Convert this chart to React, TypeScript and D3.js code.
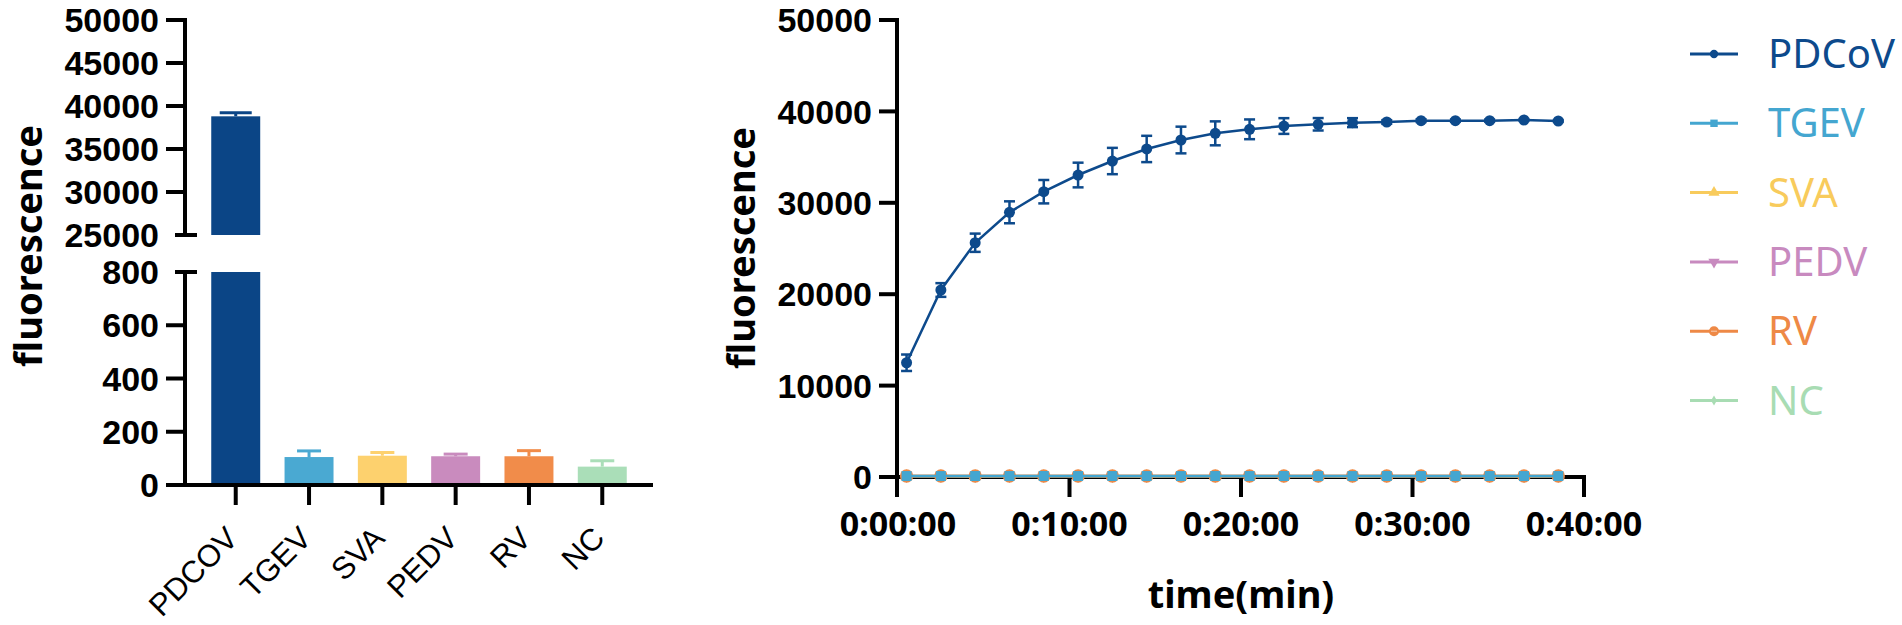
import React from 'react';
import * as d3 from 'd3';

// ---------- Data: bar chart ----------
const barCategories = ['PDCOV', 'TGEV', 'SVA', 'PEDV', 'RV', 'NC'];
const barMeans = [38800, 105, 110, 108, 108, 69];
const barSD = [420, 23, 12, 8, 21, 22];
const barColors = ['#0B4586', '#4AA9D2', '#FDD16E', '#C98BBE', '#F18C4A', '#AADEB8'];
const upperTicks = [25000, 30000, 35000, 40000, 45000, 50000];
const lowerTicks = [0, 200, 400, 600, 800];

// ---------- Data: time course ----------
const timeMin = [0.5, 2.5, 4.5, 6.5, 8.5, 10.5, 12.5, 14.5, 16.5, 18.5, 20.5, 22.5, 24.5, 26.5, 28.5, 30.5, 32.5, 34.5, 36.5, 38.5];
const pdcovMean = [12500, 20460, 25630, 28960, 31215, 33040, 34570, 35890, 36870, 37600, 38040, 38400, 38590, 38770, 38840, 38990, 38990, 38990, 39060, 38950];
const pdcovSD = [900, 750, 1000, 1200, 1280, 1350, 1440, 1440, 1460, 1310, 1080, 860, 680, 490, 200, 150, 120, 120, 100, 100];
const tgevMean = [105, 104, 106, 105, 107, 105, 106, 104, 105, 106, 105, 107, 105, 104, 106, 105, 105, 106, 104, 105];
const svaMean = [110, 111, 109, 110, 112, 110, 111, 109, 110, 111, 110, 112, 110, 109, 111, 110, 110, 111, 109, 110];
const pedvMean = [108, 107, 109, 108, 108, 107, 109, 108, 108, 107, 109, 108, 108, 107, 109, 108, 108, 107, 109, 108];
const rvMean = [108, 109, 107, 108, 110, 108, 109, 107, 108, 109, 108, 110, 108, 107, 109, 108, 108, 109, 107, 108];
const ncMean = [69, 70, 68, 69, 71, 69, 70, 68, 69, 70, 69, 71, 69, 68, 70, 69, 69, 70, 68, 69];
const seriesNames = ['PDCoV', 'TGEV', 'SVA', 'PEDV', 'RV', 'NC'];
const seriesColors = ['#0D4A8C', '#44A6D0', '#F8CB5C', '#C88ABF', '#EE8946', '#A8DCB3'];
const rightYTicks = [0, 10000, 20000, 30000, 40000, 50000];
const rightXTicks = [0, 10, 20, 30, 40];
const rightXTickLabels = ['0:00:00', '0:10:00', '0:20:00', '0:30:00', '0:40:00'];

const tickFont = '"Liberation Sans", Arial, sans-serif';
const titleFont = '"Noto Sans", "Open Sans", sans-serif';

const symbolTypes = [d3.symbolCircle, d3.symbolSquare, d3.symbolTriangle, d3.symbolTriangle, d3.symbolCircle, d3.symbolDiamond];
const symbolRot = [0, 0, 0, 180, 0, 0];

export default function App() {
  // ----- left chart scales -----
  const axisX = 185;
  const yUp = d3.scaleLinear().domain([25000, 50000]).range([235, 20]);
  const yLo = d3.scaleLinear().domain([0, 800]).range([485, 272]);
  const xBand = d3.scaleBand().domain(barCategories).range([185, 653]).paddingInner(0.332).paddingOuter(0.358);
  const bw = xBand.bandwidth();

  // ----- right chart scales -----
  const xT = d3.scaleLinear().domain([0, 40]).range([898, 1584]);
  const yT = d3.scaleLinear().domain([0, 50000]).range([477, 20]);
  const lineGen = d3.line<number>().x((_, i) => xT(timeMin[i])).y((d) => yT(d));

  const baseSeries = [tgevMean, svaMean, pedvMean, rvMean, ncMean];
  const symbolSizes = [100, 100, 60, 60, 140, 50];

  const legendY0 = 54;
  const legendStep = 69.3;

  return (
    <svg width={1902} height={625} style={{ position: 'absolute', left: 0, top: 0, background: '#fff' }}>
      <rect x={0} y={0} width={1902} height={625} fill="#fff" />
      {/* ================= LEFT BAR CHART ================= */}
      {barCategories.map((c, i) => {
        const x0 = xBand(c)!;
        const m = barMeans[i];
        const col = barColors[i];
        const cx = x0 + bw / 2;
        if (m > 800) {
          const top = yUp(m);
          const errTop = yUp(m + barSD[i]);
          return (
            <g key={c}>
              <rect x={x0} y={yLo(800)} width={bw} height={yLo(0) - yLo(800)} fill={col} />
              <rect x={x0} y={top} width={bw} height={yUp(25000) - top} fill={col} />
              <line x1={cx} x2={cx} y1={top} y2={errTop} stroke={col} strokeWidth={3} />
              <line x1={cx - 16} x2={cx + 16} y1={errTop} y2={errTop} stroke={col} strokeWidth={3} />
            </g>
          );
        }
        const top = yLo(m);
        const errTop = yLo(m + barSD[i]);
        return (
          <g key={c}>
            <rect x={x0} y={top} width={bw} height={yLo(0) - top} fill={col} />
            <line x1={cx} x2={cx} y1={top} y2={errTop} stroke={col} strokeWidth={3} />
            <line x1={cx - 12} x2={cx + 12} y1={errTop} y2={errTop} stroke={col} strokeWidth={3} />
          </g>
        );
      })}
      {/* upper y axis */}
      <line x1={axisX} x2={axisX} y1={yUp(50000) - 2} y2={yUp(25000)} stroke="#000" strokeWidth={4} />
      <line x1={axisX - 10} x2={axisX + 12} y1={yUp(25000)} y2={yUp(25000)} stroke="#000" strokeWidth={4} />
      {upperTicks.map((t) => (
        <g key={'u' + t}>
          {t !== 25000 && <line x1={axisX - 19} x2={axisX} y1={yUp(t)} y2={yUp(t)} stroke="#000" strokeWidth={4} />}
          <text x={159} y={yUp(t)} dy="0.36em" textAnchor="end" fontFamily={tickFont} fontWeight="bold" fontSize={34} fill="#000">
            {t}
          </text>
        </g>
      ))}
      {/* lower y axis */}
      <line x1={axisX} x2={axisX} y1={yLo(800)} y2={yLo(0)} stroke="#000" strokeWidth={4} />
      <line x1={axisX - 10} x2={axisX + 12} y1={yLo(800)} y2={yLo(800)} stroke="#000" strokeWidth={4} />
      {lowerTicks.map((t) => (
        <g key={'l' + t}>
          {t !== 800 && <line x1={axisX - 19} x2={axisX} y1={yLo(t)} y2={yLo(t)} stroke="#000" strokeWidth={4} />}
          <text x={159} y={yLo(t)} dy="0.36em" textAnchor="end" fontFamily={tickFont} fontWeight="bold" fontSize={34} fill="#000">
            {t}
          </text>
        </g>
      ))}
      {/* x axis */}
      <line x1={axisX} x2={653} y1={yLo(0)} y2={yLo(0)} stroke="#000" strokeWidth={4} />
      {barCategories.map((c) => {
        const cx = xBand(c)! + bw / 2;
        return (
          <g key={'xt' + c}>
            <line x1={cx} x2={cx} y1={yLo(0)} y2={505} stroke="#000" strokeWidth={4} />
            <text
              transform={`translate(${cx + 4},${540}) rotate(-45)`}
              textAnchor="end"
              fontFamily={tickFont}
              fontSize={31}
              fill="#000"
            >
              {c}
            </text>
          </g>
        );
      })}
      <text transform={`translate(42,${246}) rotate(-90)`} textAnchor="middle" fontFamily={titleFont} fontWeight="bold" fontSize={38} fill="#000">
        fluorescence
      </text>

      {/* ================= RIGHT LINE CHART ================= */}
      <line x1={897} x2={897} y1={yT(50000) - 2} y2={497} stroke="#000" strokeWidth={4} />
      <line x1={879} x2={xT(40) + 2} y1={yT(0)} y2={yT(0)} stroke="#000" strokeWidth={4} />
      {rightYTicks.map((t) => (
        <g key={'ry' + t}>
          <line x1={879} x2={897} y1={yT(t)} y2={yT(t)} stroke="#000" strokeWidth={4} />
          <text x={872} y={yT(t)} dy="0.36em" textAnchor="end" fontFamily={tickFont} fontWeight="bold" fontSize={34} fill="#000">
            {t}
          </text>
        </g>
      ))}
      {rightXTicks.map((t, i) => (
        <g key={'rx' + t}>
          {t !== 0 && <line x1={xT(t)} x2={xT(t)} y1={yT(0)} y2={497} stroke="#000" strokeWidth={4} />}
          <text x={xT(t)} y={536} textAnchor="middle" fontFamily={titleFont} fontWeight="bold" fontSize={34} fill="#000">
            {rightXTickLabels[i]}
          </text>
        </g>
      ))}
      <text x={xT(20)} y={608} textAnchor="middle" fontFamily={titleFont} fontWeight="bold" fontSize={38} fill="#000">
        time(min)
      </text>
      <text transform={`translate(755,${248}) rotate(-90)`} textAnchor="middle" fontFamily={titleFont} fontWeight="bold" fontSize={38} fill="#000">
        fluorescence
      </text>

      {/* baseline series: NC, PEDV, SVA, RV, TGEV */}
      {[5, 3, 2, 4, 1].map((si) => {
        const data = baseSeries[si - 1];
        const col = seriesColors[si];
        const sym = d3.symbol().type(symbolTypes[si]).size(symbolSizes[si])()!;
        return (
          <g key={'s' + si}>
            <path d={lineGen(data)!} fill="none" stroke={col} strokeWidth={2.5} />
            {data.map((d, i) => (
              <path key={i} d={sym} transform={`translate(${xT(timeMin[i])},${yT(d)}) rotate(${symbolRot[si]})`} fill={col} />
            ))}
          </g>
        );
      })}

      {/* PDCoV */}
      <g>
        {pdcovMean.map((m, i) => {
          const x = xT(timeMin[i]);
          const y1 = yT(m + pdcovSD[i]);
          const y2 = yT(m - pdcovSD[i]);
          return (
            <g key={'e' + i} stroke={seriesColors[0]} strokeWidth={2.5}>
              <line x1={x} x2={x} y1={y1} y2={y2} />
              <line x1={x - 5.5} x2={x + 5.5} y1={y1} y2={y1} />
              <line x1={x - 5.5} x2={x + 5.5} y1={y2} y2={y2} />
            </g>
          );
        })}
        <path d={lineGen(pdcovMean)!} fill="none" stroke={seriesColors[0]} strokeWidth={2.5} />
        {pdcovMean.map((m, i) => (
          <circle key={'p' + i} cx={xT(timeMin[i])} cy={yT(m)} r={5.5} fill={seriesColors[0]} />
        ))}
      </g>

      {/* legend */}
      {seriesNames.map((n, i) => {
        const y = legendY0 + i * legendStep;
        const col = seriesColors[i];
        const sym = d3.symbol().type(symbolTypes[i]).size(i === 5 ? 30 : i === 4 ? 80 : 55)()!;
        return (
          <g key={'lg' + n}>
            <line x1={1690} x2={1738} y1={y} y2={y} stroke={col} strokeWidth={3} />
            <path d={sym} transform={`translate(1714,${y}) rotate(${symbolRot[i]})`} fill={col} />
            {i === 4 && <line x1={1711} x2={1717} y1={y} y2={y} stroke="#fff" strokeWidth={1} opacity={0.6} />}
            <text x={1768} y={y + 14} fontFamily={titleFont} fontSize={40} fill={col}>
              {n}
            </text>
          </g>
        );
      })}
    </svg>
  );
}
